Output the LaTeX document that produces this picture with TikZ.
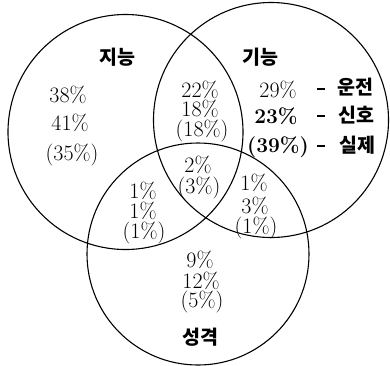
\documentclass[tikz,border=0pt]{standalone}
\usepackage{fontspec}
\newfontfamily\kr{Noto Sans CJK KR}
\begin{document}
\begin{tikzpicture}[x=1pt,y=-1pt,
  ring/.style={circle,draw,line width=1.1pt,inner sep=0pt},
  num/.style={anchor=base,inner sep=0pt,font=\fontsize{22}{26}\selectfont},
  bnum/.style={num,font=\fontsize{21}{25}\selectfont\bfseries},
  lab/.style={anchor=center,inner sep=0pt,font=\fontsize{19.5}{22}\selectfont\kr\bfseries},
  dsh/.style={anchor=center,inner sep=0pt}]
\useasboundingbox (0,0) rectangle (390,365);
\node[ring,minimum size=235pt] (L) at (125.5,132) {};
\node[ring,minimum size=235pt] (R) at (271,120) {};
\node[ring,minimum size=222pt] (B) at (198,254) {};
% left
\node[lab] (tL) at (117,57) {지능};
\node[num] (a1) at (68,102) {38\%};
\node[num] (a2) at (70,130) {41\%};
\node[num] (a3) at (72,160) {(35\%)};
% top middle
\node[num] (b1) at (200,97) {22\%};
\node[num] (b2) at (200,116) {18\%};
\node[num] (b3) at (202,136) {(18\%)};
% right
\node[lab] (tR) at (260,57) {기능};
\node[num] (c1) at (278,97) {29\%};
\node[bnum] (c2) at (276,123) {23\%};
\node[bnum] (c3) at (278,152) {(39\%)};
\node[dsh] (d1) at (321,89) {\rule{8pt}{1.3pt}};
\node[dsh] (d2) at (321,116) {\rule{8pt}{1.3pt}};
\node[dsh] (d3) at (321,146) {\rule{8pt}{1.3pt}};
\node[lab] (e1) at (355,87) {운전};
\node[lab] (e2) at (356,115) {신호};
\node[lab] (e3) at (357,145) {실제};
% centre
\node[num] (m1) at (198,172) {2\%};
\node[num] (m2) at (199,193) {(3\%)};
% lower left
\node[num] (f1) at (143,198) {1\%};
\node[num] (f2) at (143,218) {1\%};
\node[num] (f3) at (144,238) {(1\%)};
% lower right
\node[num] (g1) at (254,190) {1\%};
\node[num] (g2) at (255,213) {3\%};
\node[num] (g3) at (256,233) {(1\%)};
% bottom
\node[num] (h1) at (200,267) {9\%};
\node[num] (h2) at (201,288) {12\%};
\node[num] (h3) at (202,307) {(5\%)};
\node[lab] (tB) at (200,337) {성격};
\end{tikzpicture}
\end{document}
